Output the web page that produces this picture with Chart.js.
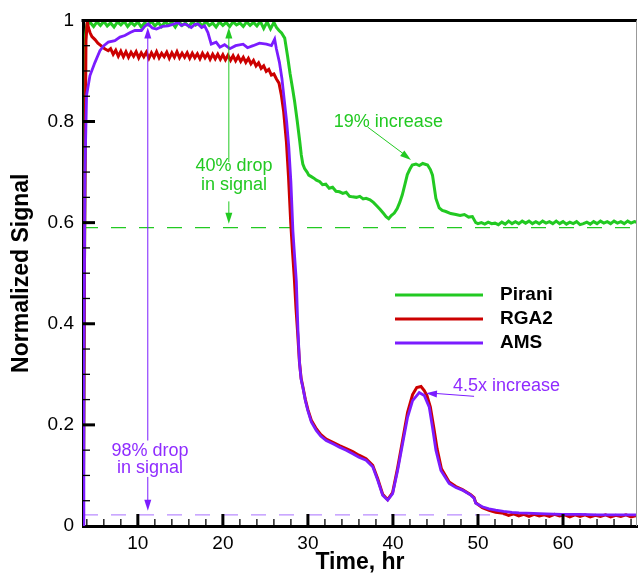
<!DOCTYPE html>
<html>
<head>
<meta charset="utf-8">
<script src="https://cdn.jsdelivr.net/npm/chart.js@4.4.0/dist/chart.umd.min.js"></script>
<style>
  html, body { margin: 0; padding: 0; background: #fff; }
  #wrap { width: 638px; height: 576px; }
</style>
</head>
<body>
<div id="wrap"><canvas id="signalChart" width="638" height="576"></canvas></div>
<script>
// Time axis (hr) and normalized signals for the three sensors
const piraniTime = [3.6, 3.85, 4.0,
  4.4, 4.8, 5.2, 5.6, 6.0, 6.4, 6.8, 7.2, 7.6, 8.0, 8.4, 8.8, 9.2, 9.6, 10.0, 10.4, 10.8, 11.2, 11.6, 12.0,
  12.4, 12.8, 13.2, 13.6, 14.0, 14.4, 14.8, 15.2, 15.6, 16.0, 16.4, 16.8, 17.2, 17.6, 18.0, 18.4, 18.8, 19.2,
  19.6, 20.0, 20.4, 20.8, 21.2, 21.6, 22.0, 22.4, 22.8, 23.2, 23.6, 24.0, 24.4, 24.8, 25.2, 25.6, 26.0, 26.3,
  26.6, 26.9, 27.27, 27.6, 27.9, 28.2, 28.44, 28.75, 29.03, 29.22, 29.4, 29.61, 29.9, 30.1, 30.4, 30.7, 31.0,
  31.4, 31.72, 32.1, 32.5, 32.9, 33.3, 33.72, 34.1, 34.5, 34.9, 35.24, 35.7, 36.1, 36.5, 36.84, 37.3, 37.7,
  38.17, 38.5, 38.9, 39.19, 39.5, 39.8, 40.16, 40.5, 40.8, 41.1, 41.4, 41.69, 42.0, 42.27, 42.7, 43.1, 43.5,
  44.07, 44.4, 44.65, 45.05, 45.44, 45.8, 46.22, 46.8, 47.4, 47.9, 48.4, 48.9, 49.34, 49.74, 50.0,
  50.4, 50.8, 51.2, 51.6, 52.0, 52.4, 52.8, 53.2, 53.6, 54.0, 54.4, 54.8, 55.2, 55.6, 56.0, 56.4, 56.8, 57.2,
  57.6, 58.0, 58.4, 58.8, 59.2, 59.6, 60.0, 60.4, 60.8, 61.2, 61.6, 62.0, 62.4, 62.8, 63.2, 63.6, 64.0, 64.4,
  64.8, 65.2, 65.6, 66.0, 66.4, 66.8, 67.2, 67.6, 68.0, 68.4, 68.8];
const piraniSignal = [0.05, 0.97, 0.992,
  0.996, 0.988, 0.997, 0.990, 0.998, 0.989, 0.995, 0.987, 0.997, 0.991, 0.998, 0.988, 0.996, 0.990, 0.997, 0.987, 0.995, 0.991, 0.998, 0.989,
  0.996, 0.988, 0.997, 0.991, 0.996, 0.987, 0.998, 0.990, 0.995, 0.988, 0.997, 0.991, 0.996, 0.989, 0.998, 0.990, 0.995, 0.987,
  0.997, 0.990, 0.996, 0.988, 0.997, 0.991, 0.995, 0.988, 0.997, 0.990, 0.996, 0.989, 0.998, 0.984, 0.997, 0.983, 0.996, 0.986,
  0.980, 0.975, 0.965, 0.930, 0.895, 0.865, 0.839, 0.800, 0.762, 0.734, 0.716, 0.707, 0.700, 0.694, 0.691, 0.688, 0.684,
  0.681, 0.675, 0.676, 0.668, 0.670, 0.662, 0.661, 0.658, 0.660, 0.652, 0.651, 0.650, 0.652, 0.647, 0.648, 0.645, 0.640,
  0.632, 0.626, 0.618, 0.612, 0.608, 0.614, 0.619, 0.628, 0.640, 0.655, 0.675, 0.695, 0.706, 0.714, 0.716, 0.713, 0.717,
  0.714, 0.705, 0.694, 0.648, 0.629, 0.624, 0.622, 0.618, 0.616, 0.614, 0.616, 0.611, 0.612, 0.600, 0.598,
  0.600, 0.597, 0.601, 0.598, 0.599, 0.596, 0.601, 0.597, 0.603, 0.598, 0.602, 0.598, 0.603, 0.599, 0.603, 0.598, 0.602, 0.598,
  0.603, 0.599, 0.602, 0.598, 0.603, 0.598, 0.602, 0.597, 0.601, 0.598, 0.602, 0.596, 0.598, 0.601, 0.597, 0.602, 0.598, 0.603,
  0.599, 0.602, 0.598, 0.603, 0.599, 0.602, 0.598, 0.603, 0.599, 0.602, 0.600];

const rgaTime = [3.6, 3.75, 3.9, 4.05, 4.2, 4.37, 4.6, 4.96, 5.3, 5.73, 6.1, 6.52,
  6.8, 7.1, 7.4, 7.7, 8.0, 8.3, 8.6, 8.9, 9.2, 9.5, 9.8, 10.1, 10.4, 10.7, 11.0, 11.3, 11.6, 11.9, 12.2, 12.5,
  12.8, 13.1, 13.4, 13.7, 14.0, 14.3, 14.6, 14.9, 15.2, 15.5, 15.8, 16.1, 16.4, 16.7, 17.0, 17.3, 17.6, 17.9,
  18.2, 18.5, 18.8, 19.1, 19.4, 19.7, 20.0, 20.3, 20.6, 20.9, 21.2, 21.5, 21.8, 22.1, 22.4, 22.7, 23.0, 23.3,
  23.6, 23.9, 24.2, 24.5, 24.8, 25.1, 25.4, 25.7, 26.0, 26.3, 26.6, 26.88, 27.15, 27.47, 27.72, 27.98, 28.2,
  28.4, 28.6, 28.8, 29.0, 29.2, 29.4, 29.7, 30.0, 30.4, 31.0, 31.5, 32.15, 33.0, 33.71, 34.5, 35.27, 36.0,
  36.84, 37.62, 38.2, 38.79, 39.38, 39.96, 40.55, 41.14, 41.72, 42.31, 42.8, 43.3, 43.68, 44.0, 44.4, 44.8,
  45.2, 45.7, 46.61, 47.4, 48.17, 49.15, 49.54, 49.74, 50.51, 51.3, 52.08,
  53.0, 53.6, 54.2, 54.8, 55.4, 56.0, 56.6, 57.2, 57.8, 58.4, 59.0, 59.6, 60.2, 60.8, 61.4, 62.0, 62.6, 63.2,
  63.8, 64.4, 65.0, 65.6, 66.2, 66.8, 67.4, 68.0, 68.7];
const rgaSignal = [0.05, 0.60, 0.96, 0.998, 0.985, 0.976, 0.968, 0.962, 0.955, 0.949, 0.944, 0.940,
  0.944, 0.933, 0.941, 0.929, 0.939, 0.928, 0.938, 0.927, 0.937, 0.929, 0.938, 0.926, 0.936, 0.928, 0.937, 0.925, 0.936, 0.927, 0.938, 0.926,
  0.935, 0.928, 0.937, 0.925, 0.936, 0.927, 0.938, 0.926, 0.935, 0.927, 0.936, 0.925, 0.935, 0.926, 0.934, 0.924, 0.935, 0.926,
  0.934, 0.923, 0.933, 0.924, 0.933, 0.923, 0.932, 0.922, 0.931, 0.921, 0.930, 0.920, 0.929, 0.919, 0.927, 0.917, 0.925, 0.914,
  0.921, 0.910, 0.916, 0.905, 0.910, 0.899, 0.903, 0.892, 0.894, 0.884, 0.876, 0.852, 0.819, 0.760, 0.690, 0.600, 0.540,
  0.490, 0.430, 0.380, 0.325, 0.292, 0.276, 0.250, 0.230, 0.209, 0.192, 0.181, 0.172, 0.165, 0.159, 0.153, 0.147, 0.140,
  0.133, 0.120, 0.094, 0.063, 0.052, 0.066, 0.115, 0.170, 0.225, 0.260, 0.274, 0.276, 0.268, 0.258, 0.235, 0.195,
  0.152, 0.113, 0.087, 0.078, 0.072, 0.062, 0.056, 0.046, 0.036, 0.031, 0.027,
  0.025, 0.021, 0.024, 0.020, 0.023, 0.019, 0.023, 0.020, 0.022, 0.019, 0.023, 0.020, 0.022, 0.018, 0.022, 0.019, 0.022, 0.018,
  0.021, 0.019, 0.022, 0.018, 0.021, 0.019, 0.022, 0.018, 0.021];

const amsTime = [3.55, 3.65, 3.78, 3.97, 4.37, 4.96, 5.54, 6.0, 6.52, 7.3, 7.9, 8.47, 9.1, 9.65, 10.42, 10.8,
  11.21, 11.7, 12.18, 12.9, 13.55, 14.1, 14.72, 15.1, 15.51, 15.9, 16.28, 16.7, 17.07, 17.5, 17.85, 18.24,
  18.63, 19.21, 19.65, 20.2, 20.82, 21.5, 22.38, 22.9, 23.55, 24.3, 25.12, 25.71, 26.09, 26.29, 26.65, 26.95,
  27.2, 27.5, 27.75, 28.0, 28.24, 28.45, 28.64, 28.83, 29.02, 29.2, 29.41, 29.7, 29.99, 30.4, 30.98, 31.5,
  32.15, 33.0, 33.71, 34.5, 35.27, 36.0, 36.84, 37.62, 38.2, 38.79, 39.38, 39.96, 40.55, 41.14, 41.72, 42.31,
  43.09, 43.68, 44.27, 44.65, 45.05, 45.64, 46.61, 47.4, 48.17, 49.15, 49.54, 49.74, 50.51, 51.3, 52.08, 53.0,
  54.0, 54.82, 56.5, 58.0, 59.86, 62.0, 64.0, 66.0, 68.7];
const amsSignal = [0.0, 0.30, 0.70, 0.852, 0.891, 0.917, 0.940, 0.950, 0.957, 0.960, 0.967, 0.970, 0.976, 0.980, 0.980, 0.988,
  0.993, 0.985, 0.983, 0.988, 0.989, 0.992, 0.996, 0.990, 0.993, 0.990, 0.986, 0.992, 0.993, 0.986, 0.989, 0.976,
  0.953, 0.957, 0.947, 0.952, 0.944, 0.950, 0.953, 0.946, 0.950, 0.955, 0.953, 0.950, 0.963, 0.944, 0.917, 0.884,
  0.845, 0.800, 0.750, 0.680, 0.583, 0.530, 0.484, 0.386, 0.321, 0.290, 0.274, 0.248, 0.228, 0.206, 0.189, 0.178,
  0.169, 0.162, 0.156, 0.150, 0.143, 0.136, 0.130, 0.117, 0.091, 0.061, 0.051, 0.064, 0.110, 0.163, 0.215, 0.248,
  0.264, 0.258, 0.235, 0.195, 0.150, 0.110, 0.084, 0.076, 0.071, 0.061, 0.055, 0.045, 0.038, 0.034, 0.0315, 0.029,
  0.027, 0.026, 0.025, 0.024, 0.023, 0.023, 0.022, 0.022, 0.022];

const timeTicks = [10, 20, 30, 40, 50, 60];
const signalTicks = [0, 0.2, 0.4, 0.6, 0.8, 1];

// final levels the drop arrows point to
const piraniFloor = 0.59;
const amsFloor = 0.022;

const GREEN = '#22c922';
const RED = '#cc0000';
const PURPLE = '#7b1cff';
const PURPLE_TXT = '#8f2cff';

const toPoints = (t, s) => t.map((v, i) => ({ x: v, y: s[i] }));

function arrowHead(ctx, x0, y0, x1, y1, len, half) {
  const a = Math.atan2(y1 - y0, x1 - x0);
  const c = Math.cos(a), s = Math.sin(a);
  ctx.beginPath();
  ctx.moveTo(x1, y1);
  ctx.lineTo(x1 - len * c + half * s, y1 - len * s - half * c);
  ctx.lineTo(x1 - len * c - half * s, y1 - len * s + half * c);
  ctx.closePath();
  ctx.fill();
}

function line(ctx, x0, y0, x1, y1) {
  ctx.beginPath();
  ctx.moveTo(x0, y0);
  ctx.lineTo(x1, y1);
  ctx.stroke();
}

// dashed reference levels under the traces
const levelLines = {
  id: 'levelLines',
  beforeDatasetsDraw(chart) {
    const { ctx, chartArea: a, scales: { y } } = chart;
    ctx.save();
    ctx.lineWidth = 1.3;
    ctx.setLineDash([15, 13]);
    ctx.strokeStyle = GREEN;
    const gy = y.getPixelForValue(piraniFloor);
    line(ctx, a.left, gy, a.right, gy);
    ctx.strokeStyle = '#b98cff';
    const py = y.getPixelForValue(amsFloor);
    line(ctx, a.left, py, a.right, py);
    ctx.restore();
  }
};

// arrows and notes
const notes = {
  id: 'notes',
  afterDatasetsDraw(chart) {
    const { ctx, scales: { x, y } } = chart;
    const X = v => x.getPixelForValue(v);
    const Y = v => y.getPixelForValue(v);
    ctx.save();
    ctx.font = '18px "Liberation Sans", Arial, sans-serif';
    ctx.textAlign = 'center';
    ctx.textBaseline = 'middle';
    ctx.lineWidth = 1;

    // Pirani drop
    ctx.strokeStyle = GREEN; ctx.fillStyle = GREEN;
    const gx = X(20.7);
    line(ctx, gx, Y(0.72), gx, Y(0.986) + 8);
    arrowHead(ctx, gx, Y(0.72), gx, Y(0.986), 11, 3.5);
    line(ctx, gx, Y(0.642), gx, Y(0.598) - 8);
    arrowHead(ctx, gx, Y(0.642), gx, Y(0.598), 11, 3.5);
    ctx.fillText('40% drop', X(21.3), Y(0.711));
    ctx.fillText('in signal', X(21.3), Y(0.674));

    // Pirani bump
    ctx.fillText('19% increase', X(39.46), Y(0.799));
    line(ctx, X(37.03), Y(0.789), X(42.12) - 6, Y(0.724) - 5);
    arrowHead(ctx, X(37.03), Y(0.789), X(42.12), Y(0.724), 11, 3.5);

    // AMS drop
    ctx.strokeStyle = PURPLE; ctx.fillStyle = PURPLE;
    const ax = X(11.17);
    line(ctx, ax, Y(0.169), ax, Y(0.986) + 8);
    arrowHead(ctx, ax, Y(0.169), ax, Y(0.986), 11, 3.5);
    line(ctx, ax, Y(0.097), ax, Y(0.030) - 8);
    arrowHead(ctx, ax, Y(0.097), ax, Y(0.030), 11, 3.5);
    ctx.fillStyle = PURPLE_TXT;
    ctx.fillText('98% drop', X(11.44), Y(0.148));
    ctx.fillText('in signal', X(11.44), Y(0.114));

    // AMS bump
    ctx.fillText('4.5x increase', X(53.35), Y(0.276));
    ctx.fillStyle = PURPLE;
    line(ctx, X(49.54), Y(0.2565), X(43.88) + 8, Y(0.2624));
    arrowHead(ctx, X(49.54), Y(0.2565), X(43.88), Y(0.2624), 11, 3.5);
    ctx.restore();
  }
};

// frame, inward ticks and the legend
const frame = {
  id: 'frame',
  afterDraw(chart) {
    const { ctx, chartArea: a, scales: { x, y } } = chart;
    ctx.save();
    ctx.strokeStyle = '#000';
    ctx.lineWidth = 3;
    line(ctx, a.left - 1.5, a.top, a.right, a.top);
    ctx.strokeStyle = '#999';
    ctx.lineWidth = 1;
    line(ctx, a.right - 0.5, a.top, a.right - 0.5, a.bottom);

    ctx.strokeStyle = '#000';
    for (let v = 4; v < x.max; v += 2) {
      const major = v % 10 === 0;
      const px = x.getPixelForValue(v);
      ctx.lineWidth = major ? 3 : 1.3;
      line(ctx, px, a.bottom, px, a.bottom - (major ? 12 : 7));
    }
    for (let k = 1; k < 20; k++) {
      const v = k * 0.05;
      const major = k % 4 === 0;
      const py = y.getPixelForValue(v);
      ctx.lineWidth = major ? 3 : 1.3;
      line(ctx, a.left, py, a.left + (major ? 12 : 7), py);
    }

    // legend
    ctx.font = 'bold 19px "Liberation Sans", Arial, sans-serif';
    ctx.textAlign = 'left';
    ctx.textBaseline = 'middle';
    ctx.fillStyle = '#000';
    chart.data.datasets.forEach((ds, i) => {
      const ly = 295 + i * 24;
      ctx.strokeStyle = ds.borderColor;
      ctx.lineWidth = 3;
      line(ctx, 395, ly, 483, ly);
      ctx.fillText(ds.label, 500, ly);
    });
    ctx.restore();
  }
};

const tickFont = { family: '"Liberation Sans", Arial, sans-serif', size: 19 };
const titleFont = { family: '"Liberation Sans", Arial, sans-serif', size: 23, weight: 'bold' };

new Chart(document.getElementById('signalChart'), {
  type: 'line',
  data: {
    datasets: [
      { label: 'Pirani', data: toPoints(piraniTime, piraniSignal), borderColor: GREEN, borderWidth: 3, order: 3 },
      { label: 'RGA2', data: toPoints(rgaTime, rgaSignal), borderColor: RED, borderWidth: 3, order: 2 },
      { label: 'AMS', data: toPoints(amsTime, amsSignal), borderColor: PURPLE, borderWidth: 2.8, order: 1 }
    ]
  },
  options: {
    responsive: false,
    animation: false,
    devicePixelRatio: 1,
    layout: { padding: { top: 18, right: 1, left: 0, bottom: 0 } },
    elements: { point: { radius: 0 }, line: { tension: 0 } },
    plugins: { legend: { display: false }, tooltip: { enabled: false } },
    scales: {
      x: {
        type: 'linear',
        min: 3.55,
        max: 68.7,
        afterBuildTicks: s => { s.ticks = timeTicks.map(v => ({ value: v })); },
        afterFit: s => { s.height = 50; },
        grid: { display: false, drawTicks: false },
        border: { display: true, color: '#000', width: 3 },
        ticks: { color: '#000', font: tickFont, padding: 6, maxRotation: 0, callback: v => String(v) },
        title: { display: true, text: 'Time, hr', color: '#000', font: titleFont, padding: { top: 0, bottom: 0 } }
      },
      y: {
        min: 0,
        max: 1,
        afterBuildTicks: s => { s.ticks = signalTicks.map(v => ({ value: v })); },
        afterFit: s => { s.width = 83; },
        grid: { display: false, drawTicks: false },
        border: { display: true, color: '#000', width: 3 },
        ticks: { color: '#000', font: tickFont, padding: 9, callback: v => String(v) },
        title: { display: true, text: 'Normalized Signal', color: '#000', font: titleFont, padding: { top: 8, bottom: 0 } }
      }
    }
  },
  plugins: [levelLines, notes, frame]
});
</script>
</body>
</html>
